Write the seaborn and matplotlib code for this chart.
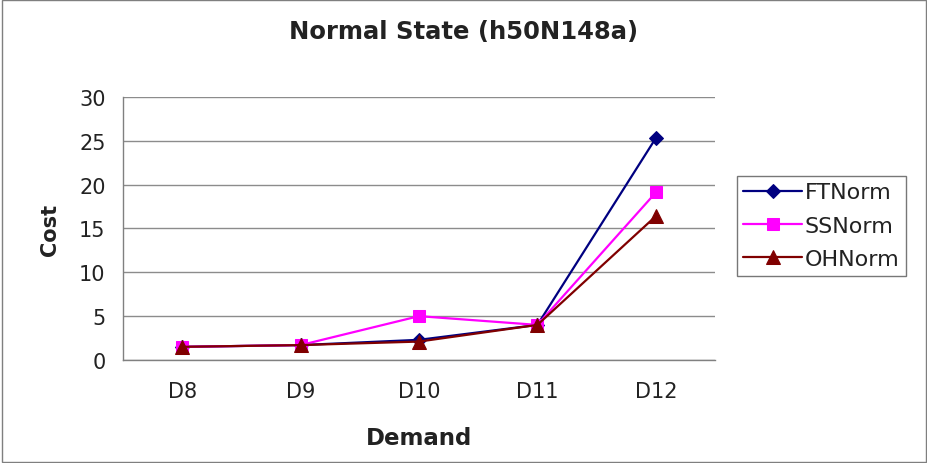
import matplotlib
matplotlib.use("Agg")
import matplotlib.pyplot as plt
import seaborn as sns
import pandas as pd
import numpy as np

categories = ["D8", "D9", "D10", "D11", "D12"]
ft_norm = [1.5, 1.7, 2.3, 4.0, 25.3]
ss_norm = [1.5, 1.7, 5.0, 4.0, 19.1]
oh_norm = [1.5, 1.7, 2.1, 4.0, 16.4]
series_names = ["FTNorm", "SSNorm", "OHNorm"]
yticks = [0, 5, 10, 15, 20, 25, 30]

sns.set_style("white")
plt.rcParams["font.family"] = ["DejaVu Sans"]

rows = []
for name, vals in zip(series_names, [ft_norm, ss_norm, oh_norm]):
    for i, (c, v) in enumerate(zip(categories, vals)):
        rows.append({"pos": i, "Demand": c, "Cost": v, "Series": name})
df = pd.DataFrame(rows)

fig = plt.figure(figsize=(9.28, 4.64), dpi=100)
fig.patches.append(plt.Rectangle((0.002, 0.003), 0.996, 0.994, transform=fig.transFigure,
                                 fill=False, edgecolor="#7f7f7f", linewidth=1.0))
ax = fig.add_axes([0.1325, 0.222, 0.638, 0.567])

palette = {"FTNorm": "#000080", "SSNorm": "#ff00ff", "OHNorm": "#800000"}
markers = {"FTNorm": "D", "SSNorm": "s", "OHNorm": "^"}
sizes = {"FTNorm": 7.5, "SSNorm": 8.5, "OHNorm": 9.5}
for name in series_names:
    sub = df[df["Series"] == name]
    sns.lineplot(data=sub, x="pos", y="Cost", ax=ax, color=palette[name],
                 marker=markers[name], markersize=sizes[name], markeredgecolor=palette[name],
                 linewidth=1.6, label=name)

ax.set_xlim(-0.5, len(categories) - 0.5)
ax.set_ylim(0, 30)
ax.set_yticks(yticks)
ax.set_yticklabels([str(t) for t in yticks], fontsize=15, color="#222222")
ax.yaxis.grid(True, color="#8c8c8c", linewidth=1.0)
ax.set_axisbelow(True)

ax.set_xticks(np.arange(-0.5, len(categories), 1.0))
ax.set_xticklabels([])
ax.set_xticks(np.arange(len(categories)), minor=True)
ax.set_xticklabels(categories, minor=True, fontsize=15, color="#222222")
ax.tick_params(axis="x", which="major", direction="out", length=5, color="#808080")
ax.tick_params(axis="x", which="minor", length=0, pad=15)
ax.tick_params(axis="y", direction="out", length=4.5, color="#808080", pad=8)

for s in ["top", "right"]:
    ax.spines[s].set_visible(False)
for s in ["left", "bottom"]:
    ax.spines[s].set_color("#808080")
    ax.spines[s].set_linewidth(1.0)

ax.set_xlabel("Demand", fontsize=16.5, fontweight="bold", labelpad=18, color="#222222")
ax.set_ylabel("Cost", fontsize=15, fontweight="bold", labelpad=14, color="#222222")
fig.text(0.5, 0.931, "Normal State (h50N148a)", fontsize=17.5, fontweight="bold",
         ha="center", va="center", color="#222222")

leg = ax.legend(loc="upper left", bbox_to_anchor=(0.794, 0.619), bbox_transform=fig.transFigure,
                frameon=True, fancybox=False, fontsize=16, handlelength=2.65,
                borderpad=0.3, labelspacing=0.6, handletextpad=0.1, borderaxespad=0)
leg.get_frame().set_edgecolor("#555555")
leg.get_frame().set_linewidth(1.0)
for t in leg.get_texts():
    t.set_color("#222222")

fig.savefig("out.png", dpi=100)
